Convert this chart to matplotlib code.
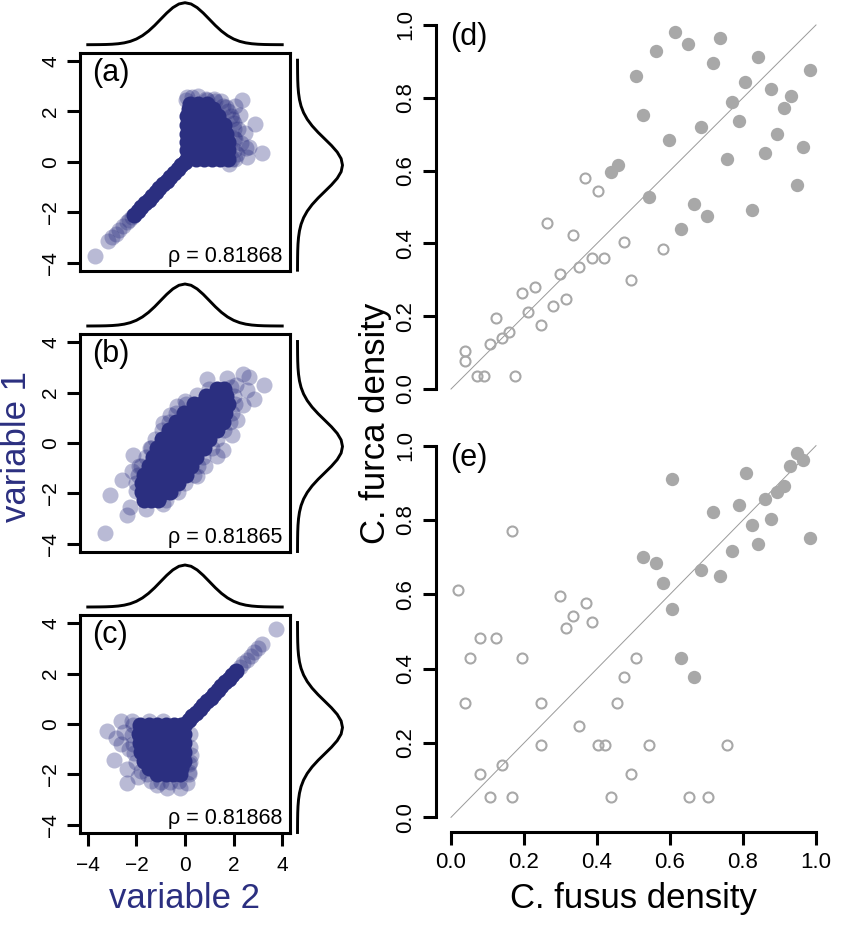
import matplotlib
matplotlib.use("Agg")
import matplotlib.pyplot as plt
from matplotlib.transforms import blended_transform_factory

plt.rcParams['font.family'] = ['Liberation Sans', 'DejaVu Sans']

W, H = 854, 938
navy = '#2b2f80'
grey = '#a8a8a8'

# ---- marginal density (same shape for all six) ----
dens_x = [-4.0, -3.75, -3.5, -3.25, -3.0, -2.75, -2.5, -2.25, -2.0, -1.75, -1.5,
          -1.25, -1.0, -0.75, -0.5, -0.25, 0.0, 0.25, 0.5, 0.75, 1.0, 1.25, 1.5,
          1.75, 2.0, 2.25, 2.5, 2.75, 3.0, 3.25, 3.5, 3.75, 4.0]
dens_y = [0.0, 0.0004, 0.0009, 0.002, 0.0044, 0.0091, 0.0175, 0.0317, 0.054,
          0.0863, 0.1295, 0.1826, 0.242, 0.3011, 0.3521, 0.3867, 0.3989, 0.3867,
          0.3521, 0.3011, 0.242, 0.1826, 0.1295, 0.0863, 0.054, 0.0317, 0.0175,
          0.0091, 0.0044, 0.002, 0.0009, 0.0004, 0.0]

# ---- panel (a): dense part and sparse (lighter) points ----
a_diag = [-2.1, -1.95, -1.8, -1.65, -1.5, -1.35, -1.2, -1.05, -0.9, -0.75, -0.6,
          -0.45, -0.3, -0.15, 0.0]
a_core_x = [0.1, 0.45, 0.8, 1.1, 1.45, 1.75,
            0.1, 0.45, 0.8, 1.1, 1.45, 1.75,
            0.1, 0.45, 0.8, 1.1, 1.45, 1.75,
            0.1, 0.45, 0.8, 1.1, 1.45, 1.7,
            0.1, 0.45, 0.8, 1.1, 1.45, 1.6,
            0.1, 0.45, 0.8, 1.1, 1.35,
            0.15, 0.5, 0.85, 1.15,
            0.2, 0.55, 0.9]
a_core_y = [0.1] * 6 + [0.45] * 6 + [0.8] * 6 + [1.1] * 6 + [1.45] * 6 + \
           [1.8] * 5 + [2.1] * 4 + [2.3] * 3
a_tail = [-3.72, -3.15, -3.0, -2.85, -2.7, -2.55, -2.4, -2.3, -2.2]
a_sp_x = [2.35, 2.9, 3.15, 2.65, 2.25, 2.05, 0.3, 0.9, 1.5, 2.0, 2.15, 2.45, 2.55,
          2.0, 1.7, 2.3, 2.05, 1.9, 0.05, 1.2, 2.2, 2.5,
          0.1, 0.55, 0.85, 1.25, 1.55, 1.95, 2.0, 2.05, 2.0, 1.95, 1.8, 1.75]
a_sp_y = [2.45, 1.5, 0.35, 0.6, 1.85, 2.2, 2.55, 2.45, 2.4, 0.95, 0.3, 1.15, 0.2,
          1.55, 2.15, 0.75, 0.1, 1.8, 2.45, 2.5, 1.3, 0.55,
          2.55, 2.6, 2.5, 2.4, 2.2, 1.7, 1.3, 0.9, 0.45, 0.1, -0.1, 2.0]

# ---- panel (b) ----
b_core_x = [-1.7, -1.4, -1.1,
            -1.75, -1.45, -1.15, -0.85, -0.6,
            -1.75, -1.45, -1.15, -0.85, -0.55, -0.3,
            -1.7, -1.4, -1.1, -0.8, -0.5, -0.2, 0.05,
            -1.5, -1.2, -0.9, -0.6, -0.3, 0.0, 0.25,
            -1.3, -1.0, -0.7, -0.4, -0.1, 0.15, 0.45,
            -1.15, -0.85, -0.55, -0.25, 0.05, 0.3, 0.6, 0.8,
            -0.95, -0.65, -0.35, -0.05, 0.25, 0.5, 0.8, 1.0,
            -0.65, -0.35, -0.05, 0.25, 0.5, 0.8, 1.05, 1.3,
            -0.35, -0.05, 0.25, 0.55, 0.8, 1.1, 1.35, 1.55,
            -0.05, 0.25, 0.55, 0.85, 1.1, 1.4, 1.65,
            0.35, 0.65, 0.95, 1.2, 1.5, 1.75,
            0.85, 1.15, 1.45, 1.7,
            1.3, 1.6]
b_core_y = [-2.25] * 3 + [-1.95] * 5 + [-1.6] * 6 + [-1.25] * 7 + [-0.9] * 7 + \
           [-0.55] * 7 + [-0.2] * 8 + [0.15] * 8 + [0.5] * 8 + [0.85] * 8 + \
           [1.2] * 7 + [1.55] * 6 + [1.85] * 4 + [2.15] * 2
b_sp_x = [-3.3, -3.09, -2.61, -2.13, -2.27, -2.4, -0.89, -0.34, 0.0, 0.89, 1.72,
          2.4, 3.23, 2.82, 1.92, 1.58, 0.82, -0.48, -1.03, 2.54, 2.13, -2.0, -1.6,
          -1.9, -1.4, -0.6, 2.4, 2.1, 1.3, 0.5, -0.9, -2.2, 2.65,
          -2.0, -1.95, -1.8, -1.6, -1.45, -1.25, -0.95, -0.65, -0.35, 0.05, 0.5, 1.0,
          -0.8, -0.3, 0.0, 0.35, 0.55, 0.75, 1.1, 1.3, 1.6, 1.85, 1.95, 2.05, 2.0,
          1.9]
b_sp_y = [-3.56, -2.06, -1.46, -0.47, -2.52, -2.86, 0.8, 1.46, 1.66, 2.52, 2.59,
          2.72, 2.28, 1.73, 0.33, -0.27, -0.93, -1.86, -2.12, 2.12, 0.93, -1.9,
          -2.6, -0.9, -0.2, 1.1, 1.5, 2.3, -0.5, -1.3, -2.4, -1.1, 2.6,
          -1.6, -1.25, -0.9, -0.55, -0.2, 0.15, 0.5, 0.85, 1.2, 1.55, 1.9, 2.15,
          -2.25, -1.95, -1.6, -1.25, -0.9, -0.55, -0.2, 0.15, 0.5, 0.85, 1.2, 1.55,
          1.85, 2.2]

# ---- panel (c) ----
c_diag = [0.0, 0.15, 0.3, 0.45, 0.6, 0.75, 0.9, 1.05, 1.2, 1.35, 1.5, 1.65, 1.8,
          1.95, 2.1]
c_core_x = [-1.85, -1.5, -1.15, -0.8, -0.45, -0.15,
            -1.9, -1.55, -1.2, -0.85, -0.5, -0.2, -0.05,
            -1.85, -1.5, -1.15, -0.8, -0.45, -0.15, -0.05,
            -1.8, -1.45, -1.1, -0.75, -0.4, -0.1, -0.05,
            -1.7, -1.35, -1.0, -0.65, -0.3, -0.05,
            -1.5, -1.15, -0.8, -0.45, -0.15,
            -1.15, -0.8, -0.5, -0.2]
c_core_y = [-0.05] * 6 + [-0.4] * 7 + [-0.75] * 7 + [-1.1] * 7 + [-1.45] * 6 + \
           [-1.75] * 5 + [-2.0] * 4
c_tail = [2.25, 2.4, 2.55, 2.7, 2.85, 3.0, 3.18, 3.75]
c_sp_x = [-3.2, -2.85, -2.92, -2.38, -1.95, -2.65, -2.2, -2.65, -0.21, -0.75,
          -1.17, 0.18, 0.24, -1.55, -2.3, -2.4, 0.22, -2.5, 0.08, -1.5, -0.9, 0.18,
          -2.15, -2.2, -2.15, -2.1, -2.0, -1.8, -1.4, -1.0, -0.6, -0.25, 0.2, 0.2,
          0.15]
c_sp_y = [-0.28, -0.54, -1.41, -2.35, -2.1, 0.1, 0.1, -0.81, -2.55, -2.55, -2.42,
          -2.0, -1.21, -2.0, -1.0, -1.8, -0.4, -0.3, -2.35, 0.12, 0.12, -1.6,
          -0.05, -0.45, -0.8, -1.15, -1.5, -1.85, -2.25, -2.3, -2.3, -2.25, -0.9,
          -1.5, -1.9]

rho_labels = ['\u03c1 = 0.81868', '\u03c1 = 0.81865', '\u03c1 = 0.81868']
panel_tags = ['(a)', '(b)', '(c)']

# ---- panel (d): C. fusus vs C. furca density ----
d_open_x = [0.037, 0.037, 0.071, 0.090, 0.176, 0.106, 0.141, 0.159, 0.122, 0.210,
            0.247, 0.194, 0.229, 0.280, 0.316, 0.298, 0.351, 0.386, 0.420, 0.333,
            0.263, 0.367, 0.404, 0.475, 0.492, 0.580]
d_open_y = [0.105, 0.078, 0.036, 0.036, 0.036, 0.124, 0.139, 0.158, 0.194, 0.211,
            0.176, 0.265, 0.281, 0.229, 0.246, 0.316, 0.334, 0.359, 0.359, 0.422,
            0.457, 0.580, 0.543, 0.403, 0.299, 0.386]
d_fill_x = [0.437, 0.457, 0.508, 0.527, 0.543, 0.561, 0.596, 0.614, 0.631, 0.649,
            0.665, 0.684, 0.702, 0.718, 0.737, 0.755, 0.771, 0.788, 0.806, 0.824,
            0.841, 0.859, 0.876, 0.894, 0.912, 0.931, 0.947, 0.965, 0.984]
d_fill_y = [0.595, 0.614, 0.859, 0.754, 0.527, 0.929, 0.684, 0.982, 0.440, 0.947,
            0.508, 0.720, 0.474, 0.895, 0.964, 0.632, 0.788, 0.736, 0.842, 0.492,
            0.912, 0.648, 0.824, 0.701, 0.771, 0.806, 0.561, 0.666, 0.876]

# ---- panel (e) ----
e_open_x = [0.018, 0.037, 0.053, 0.080, 0.080, 0.106, 0.122, 0.141, 0.168, 0.168,
            0.194, 0.247, 0.247, 0.298, 0.316, 0.335, 0.351, 0.369, 0.386, 0.404,
            0.422, 0.439, 0.455, 0.475, 0.492, 0.508, 0.543, 0.651, 0.704, 0.755]
e_open_y = [0.613, 0.308, 0.430, 0.482, 0.116, 0.054, 0.482, 0.141, 0.770, 0.054,
            0.430, 0.307, 0.195, 0.596, 0.509, 0.543, 0.246, 0.578, 0.526, 0.195,
            0.195, 0.054, 0.307, 0.377, 0.116, 0.430, 0.195, 0.054, 0.054, 0.195]
e_fill_x = [0.527, 0.561, 0.580, 0.605, 0.605, 0.631, 0.665, 0.684, 0.718, 0.737,
            0.771, 0.788, 0.808, 0.824, 0.841, 0.859, 0.876, 0.894, 0.912, 0.929,
            0.947, 0.965, 0.984]
e_fill_y = [0.700, 0.683, 0.630, 0.910, 0.561, 0.430, 0.377, 0.665, 0.822, 0.648,
            0.717, 0.840, 0.927, 0.787, 0.735, 0.857, 0.804, 0.875, 0.892, 0.945,
            0.980, 0.962, 0.752]
unit_ticks = [0.0, 0.2, 0.4, 0.6, 0.8, 1.0]
var_ticks = [-4, -2, 0, 2, 4]


def box(x0, y0, x1, y1):
    return [x0 / W, 1 - y1 / H, (x1 - x0) / W, (y1 - y0) / H]


def num(t):
    return ('%d' % t).replace('-', '\u2212')


fig = plt.figure(figsize=(W / 100, H / 100), dpi=100)

panels = [
    (a_core_x + a_diag, a_core_y + a_diag, a_sp_x + a_tail, a_sp_y + a_tail),
    (b_core_x, b_core_y, b_sp_x, b_sp_y),
    (c_core_x + c_diag, c_core_y + c_diag, c_sp_x + c_tail, c_sp_y + c_tail),
]
tops = [52.7, 334, 615]

for i, (cx, cy, sx, sy) in enumerate(panels):
    top = tops[i]
    ax = fig.add_axes(box(80, top, 290, top + 218))
    ax.scatter(sx, sy, s=133, color=navy, alpha=0.33, linewidths=0)
    ax.scatter(cx, cy, s=133, color=navy, alpha=1.0, linewidths=0)
    ax.set_xlim(-4.32, 4.32)
    ax.set_ylim(-4.32, 4.32)
    ax.set_xticks(var_ticks)
    ax.set_yticks(var_ticks)
    for sp in ax.spines.values():
        sp.set_linewidth(2.2)
    ax.tick_params(direction='out', length=9.4, width=2.2, labelsize=15, pad=7)
    ax.tick_params(axis='y', labelleft=False)
    # y tick labels written parallel to the axis, as R does
    tr = blended_transform_factory(fig.transFigure, ax.transData)
    for t in var_ticks:
        ax.text(51 / W, t, num(t), transform=tr, rotation=90, fontsize=15,
                ha='center', va='center')
    if i < 2:
        ax.tick_params(axis='x', bottom=False, labelbottom=False)
    ax.text(0.06, 0.975, panel_tags[i], transform=ax.transAxes, fontsize=22,
            ha='left', va='top')
    ax.text(0.962, 0.04, rho_labels[i], transform=ax.transAxes, fontsize=15.5,
            ha='right', va='baseline')

    # top marginal density
    mt = fig.add_axes(box(80, top - 50, 290, top - 8))
    mt.plot(dens_x, dens_y, color='black', lw=2.1, clip_on=False)
    mt.set_xlim(-4.32, 4.32)
    mt.set_ylim(0, 0.3989)
    mt.axis('off')

    # right marginal density
    mr = fig.add_axes(box(297.5, top + 7.5, 342.5, top + 217.5))
    mr.plot(dens_y, dens_x, color='black', lw=2.1, clip_on=False)
    mr.set_xlim(0, 0.3989)
    mr.set_ylim(-4, 4)
    mr.axis('off')

fig.text(185 / W, 1 - 908 / H, 'variable 2', color=navy, fontsize=25,
         ha='center', va='baseline')
fig.text(26 / W, 1 - 446 / H, 'variable 1', color=navy, fontsize=25,
         rotation=90, rotation_mode='anchor', ha='center', va='baseline')

# right column
ax_d = fig.add_axes(box(436.4, 10.4, 830.6, 403.6))
ax_e = fig.add_axes(box(436.4, 430.8, 830.6, 832.2))
for ax, ox, oy, fx, fy, tag in [(ax_d, d_open_x, d_open_y, d_fill_x, d_fill_y, '(d)'),
                                (ax_e, e_open_x, e_open_y, e_fill_x, e_fill_y, '(e)')]:
    ax.plot([0, 1], [0, 1], color='#9a9a9a', lw=0.7)
    ax.plot(ox, oy, 'o', ms=7.2, mfc='none', mec=grey, mew=1.5, ls='none')
    ax.plot(fx, fy, 'o', ms=9.6, mfc=grey, mew=0, ls='none')
    ax.set_xlim(-0.04, 1.04)
    ax.set_ylim(-0.04, 1.04)
    ax.set_xticks(unit_ticks)
    ax.set_yticks(unit_ticks)
    ax.set_xticklabels(['%.1f' % t for t in unit_ticks])
    ax.set_yticklabels(['%.1f' % t for t in unit_ticks])
    ax.spines['top'].set_visible(False)
    ax.spines['right'].set_visible(False)
    ax.spines['left'].set_bounds(0, 1)
    ax.spines['bottom'].set_bounds(0, 1)
    for sp in ax.spines.values():
        sp.set_linewidth(2.2)
    ax.tick_params(direction='out', length=9.4, width=2.2, labelsize=16, pad=5)
    plt.setp(ax.get_yticklabels(), rotation=90, rotation_mode='anchor',
             ha='center', va='bottom')
    ax.text(0.035, 0.97, tag, transform=ax.transAxes, fontsize=22,
            ha='left', va='top')

ax_d.spines['bottom'].set_visible(False)
ax_d.tick_params(axis='x', bottom=False, labelbottom=False)

fig.text(633 / W, 1 - 908 / H, 'C. fusus density', fontsize=25,
         ha='center', va='baseline')
fig.text(385 / W, 1 - 423 / H, 'C. furca density', fontsize=25,
         rotation=90, rotation_mode='anchor', ha='center', va='baseline')

fig.savefig('out.png', dpi=100)
